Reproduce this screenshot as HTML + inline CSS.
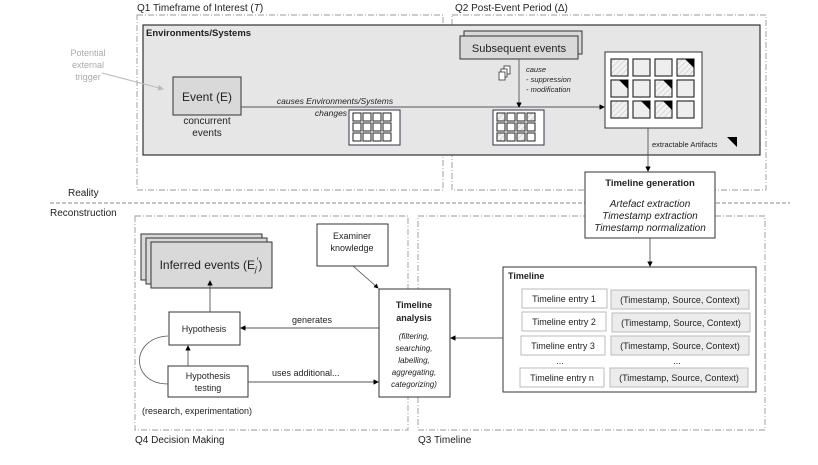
<!DOCTYPE html>
<html><head><meta charset="utf-8"><style>
body{margin:0;background:#fff}
svg{display:block;font-family:"Liberation Sans",sans-serif}
</style></head><body>
<svg width="818" height="465" viewBox="0 0 818 465" xmlns="http://www.w3.org/2000/svg">
<defs>
<pattern id="h" width="4" height="4" patternUnits="userSpaceOnUse" patternTransform="rotate(45)">
<rect width="4" height="4" fill="#f2f2f2"/><line x1="0" y1="0" x2="0" y2="4" stroke="#cfcfcf" stroke-width="1.5"/></pattern>
<marker id="a" markerWidth="6" markerHeight="6" refX="5" refY="3" orient="auto"><path d="M0,0L6,3L0,6z" fill="#000"/></marker>
<marker id="ag" markerWidth="6" markerHeight="6" refX="5" refY="3" orient="auto"><path d="M0,0L6,3L0,6z" fill="#bbb"/></marker>
</defs>
<g font-size="10" fill="#222">
<!-- Q boxes -->
<g fill="none" stroke="#999" stroke-dasharray="6,2,1,2" stroke-width="0.9">
<rect x="137" y="15" width="306" height="175"/>
<rect x="452" y="15" width="314" height="175"/>
<rect x="135" y="216" width="273" height="214"/>
<rect x="418" y="216" width="347" height="214"/>
</g>
<text x="137" y="11">Q1 Timeframe of Interest (<tspan font-style="italic">T</tspan>)</text>
<text x="455" y="11">Q2 Post-Event Period (Δ)</text>
<text x="135" y="443">Q4 Decision Making</text>
<text x="418" y="443">Q3 Timeline</text>
<line x1="50" y1="203" x2="790" y2="203" stroke="#888" stroke-dasharray="4,2" stroke-width="0.9"/>
<text x="68" y="196">Reality</text>
<text x="50" y="216">Reconstruction</text>
<!-- Env box -->
<rect x="143" y="25" width="617" height="130" fill="#e6e6e6" stroke="#333" stroke-width="1.2"/>
<text x="146" y="36" font-weight="bold" font-size="9.5">Environments/Systems</text>
<text fill="#aaa" font-size="9" text-anchor="middle"><tspan x="88" y="56">Potential</tspan><tspan x="88" y="68">external</tspan><tspan x="88" y="80">trigger</tspan></text>
<line x1="102" y1="73" x2="163" y2="89" stroke="#bbb" marker-end="url(#ag)"/>
<rect x="173" y="77" width="68" height="38" fill="#d9d9d9" stroke="#333" stroke-width="1"/>
<text x="207" y="101" text-anchor="middle" font-size="12">Event (E)</text>
<text text-anchor="middle"><tspan x="207" y="124">concurrent</tspan><tspan x="207" y="136">events</tspan></text>
<line x1="241" y1="107" x2="604" y2="107" stroke="#555" stroke-width="0.9" marker-end="url(#a)"/>
<text font-style="italic" font-size="8.5" text-anchor="middle"><tspan x="335" y="104">causes Environments/Systems</tspan><tspan x="331" y="116">changes</tspan></text>
<rect x="349" y="110" width="51" height="35" fill="#fff" stroke="#334" stroke-width="1"/>
<g fill="none" stroke="#333" stroke-width="1.1">
<rect x="353" y="113" width="8" height="8"/><rect x="363" y="113" width="8" height="8"/><rect x="373" y="113" width="8" height="8"/><rect x="383" y="113" width="8" height="8"/>
<rect x="353" y="123" width="8" height="8"/><rect x="363" y="123" width="8" height="8"/><rect x="373" y="123" width="8" height="8"/><rect x="383" y="123" width="8" height="8"/>
<rect x="353" y="133" width="8" height="8"/><rect x="363" y="133" width="8" height="8"/><rect x="373" y="133" width="8" height="8"/><rect x="383" y="133" width="8" height="8"/>
</g>
<rect x="493" y="110" width="51" height="35" fill="#fff" stroke="#334" stroke-width="1"/>
<g stroke="#333" stroke-width="1.1" fill="none">
<rect x="497" y="113" width="8" height="8" fill="url(#h)"/><rect x="507" y="113" width="8" height="8"/><rect x="517" y="113" width="8" height="8"/><rect x="527" y="113" width="8" height="8" fill="url(#h)"/>
<rect x="497" y="123" width="8" height="8"/><rect x="507" y="123" width="8" height="8"/><rect x="517" y="123" width="8" height="8" fill="url(#h)"/><rect x="527" y="123" width="8" height="8"/>
<rect x="497" y="133" width="8" height="8" fill="url(#h)"/><rect x="507" y="133" width="8" height="8"/><rect x="517" y="133" width="8" height="8" fill="url(#h)"/><rect x="527" y="133" width="8" height="8"/>
</g>
<!-- subsequent events -->
<rect x="464" y="31" width="118" height="23" fill="#d9d9d9" stroke="#333"/>
<rect x="460" y="36" width="118" height="23" fill="#d9d9d9" stroke="#333"/>
<text x="519" y="52" text-anchor="middle" font-size="11">Subsequent events</text>
<line x1="519" y1="59" x2="519" y2="107" stroke="#555" stroke-width="0.9" marker-end="url(#a)"/>
<rect x="504" y="66" width="6" height="8" fill="#fff" stroke="#333" stroke-width="0.8"/>
<rect x="501" y="69" width="6" height="8" fill="#fff" stroke="#333" stroke-width="0.8"/>
<rect x="499" y="72" width="6" height="8" fill="#fff" stroke="#333" stroke-width="0.8"/>
<text font-style="italic" font-size="7.5"><tspan x="526" y="72">cause</tspan><tspan x="526" y="82">- suppression</tspan><tspan x="526" y="92">- modification</tspan></text>
<!-- artifacts -->
<rect x="605" y="52" width="97" height="76" fill="#fff" stroke="#333" stroke-width="1"/>
<g stroke="#333" stroke-width="1.2">
<rect x="611" y="59" width="17" height="17" fill="url(#h)"/><rect x="633" y="59" width="17" height="17" fill="#eee"/><rect x="655" y="59" width="17" height="17" fill="#eee"/><rect x="677" y="59" width="17" height="17" fill="url(#h)"/>
<rect x="611" y="80" width="17" height="17" fill="#eee"/><rect x="633" y="80" width="17" height="17" fill="#eee"/><rect x="655" y="80" width="17" height="17" fill="url(#h)"/><rect x="677" y="80" width="17" height="17" fill="#eee"/>
<rect x="611" y="101" width="17" height="17" fill="url(#h)"/><rect x="633" y="101" width="17" height="17" fill="#eee"/><rect x="655" y="101" width="17" height="17" fill="url(#h)"/><rect x="677" y="101" width="17" height="17" fill="#eee"/>
</g>
<g fill="#000">
<path d="M685,59H694V68z"/><path d="M619,80H628V89z"/><path d="M663,80H672V89z"/><path d="M641,101H650V110z"/><path d="M663,101H672V110z"/>
<path d="M727,137H737V147z"/>
</g>
<text x="652" y="147" font-size="7.5">extractable Artifacts</text>
<line x1="648" y1="128" x2="648" y2="171" stroke="#555" stroke-width="0.9" marker-end="url(#a)"/>
<!-- timeline generation -->
<rect x="585" y="172" width="130" height="66" fill="#fff" stroke="#333"/>
<text x="650" y="186" text-anchor="middle" font-weight="bold" font-size="9.5">Timeline generation</text>
<text font-style="italic" text-anchor="middle"><tspan x="650" y="207">Artefact extraction</tspan><tspan x="650" y="219">Timestamp extraction</tspan><tspan x="650" y="231">Timestamp normalization</tspan></text>
<line x1="650" y1="238" x2="650" y2="266" stroke="#555" stroke-width="0.9" marker-end="url(#a)"/>
<!-- Timeline -->
<rect x="503" y="267" width="253" height="125" fill="#fff" stroke="#333"/>
<text x="508" y="279" font-weight="bold" font-size="9">Timeline</text>
<g stroke="#bbb" fill="#fff">
<rect x="522" y="289" width="85" height="19"/><rect x="522" y="312" width="84" height="19"/><rect x="521" y="336" width="84" height="19"/><rect x="520" y="368" width="84" height="19"/>
</g>
<g stroke="#bbb" fill="#ececec">
<rect x="611" y="290" width="138" height="19"/><rect x="612" y="313" width="138" height="19"/><rect x="611" y="336" width="138" height="19"/><rect x="610" y="368" width="138" height="19"/>
</g>
<g text-anchor="middle" font-size="9">
<text x="564" y="302">Timeline entry 1</text><text x="564" y="325">Timeline entry 2</text><text x="563" y="349">Timeline entry 3</text><text x="562" y="381">Timeline entry n</text>
<text x="680" y="303">(Timestamp, Source, Context)</text><text x="681" y="326">(Timestamp, Source, Context)</text><text x="680" y="349">(Timestamp, Source, Context)</text><text x="679" y="381">(Timestamp, Source, Context)</text>
<text x="560" y="364">...</text><text x="677" y="364">...</text>
</g>
<line x1="503" y1="338" x2="451" y2="338" stroke="#666" stroke-width="0.9" marker-end="url(#a)"/>
<!-- Q4 -->
<rect x="141" y="234" width="121" height="46" fill="#d9d9d9" stroke="#333"/>
<rect x="146" y="238" width="121" height="46" fill="#d9d9d9" stroke="#333"/>
<rect x="151" y="242" width="121" height="46" fill="#d9d9d9" stroke="#333"/>
<text x="211" y="269" text-anchor="middle" font-size="12">Inferred events (E<tspan font-size="8" dy="3" font-style="italic">j</tspan><tspan dy="-8" font-size="9">′</tspan><tspan dy="5">)</tspan></text>
<rect x="317" y="224" width="71" height="42" fill="#fff" stroke="#333"/>
<text text-anchor="middle" font-size="9"><tspan x="352" y="239">Examiner</tspan><tspan x="352" y="251">knowledge</tspan></text>
<line x1="353" y1="266" x2="378" y2="288" stroke="#444" stroke-width="0.8" marker-end="url(#a)"/>
<rect x="379" y="289" width="71" height="108" fill="#fff" stroke="#333"/>
<text text-anchor="middle" font-weight="bold" font-size="9"><tspan x="414" y="308">Timeline</tspan><tspan x="414" y="321">analysis</tspan></text>
<text text-anchor="middle" font-style="italic" font-size="8"><tspan x="414" y="339">(filtering,</tspan><tspan x="414" y="351">searching,</tspan><tspan x="414" y="363">labelling,</tspan><tspan x="414" y="375">aggregating,</tspan><tspan x="414" y="387">categorizing)</tspan></text>
<rect x="169" y="312" width="71" height="33" fill="#fff" stroke="#333"/>
<text x="204" y="332" text-anchor="middle" font-size="9">Hypothesis</text>
<rect x="168" y="366" width="80" height="31" fill="#fff" stroke="#333"/>
<text text-anchor="middle" font-size="9"><tspan x="208" y="379">Hypothesis</tspan><tspan x="208" y="391">testing</tspan></text>
<text x="142" y="414" font-size="9">(research, experimentation)</text>
<line x1="210" y1="312" x2="210" y2="281" stroke="#555" stroke-width="0.9" marker-end="url(#a)"/>
<line x1="188" y1="366" x2="188" y2="346" stroke="#555" stroke-width="0.9" marker-end="url(#a)"/>
<line x1="379" y1="328" x2="241" y2="328" stroke="#555" stroke-width="0.9" marker-end="url(#a)"/>
<text x="292" y="323" font-size="9">generates</text>
<line x1="248" y1="382" x2="378" y2="382" stroke="#555" stroke-width="0.9" marker-end="url(#a)"/>
<text x="272" y="376" font-size="9">uses additional...</text>
<path d="M168,336 C130,338 130,384 168,384" fill="none" stroke="#555" stroke-width="0.8"/>
</g>
</svg>
</body></html>
